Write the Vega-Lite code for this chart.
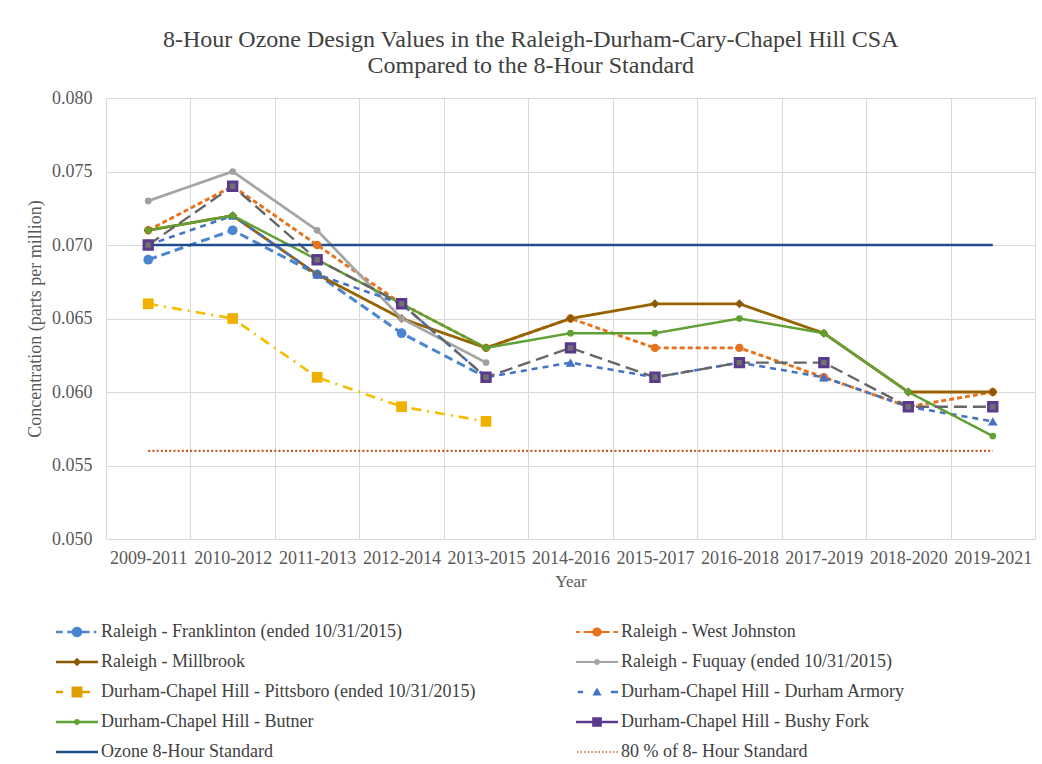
{
  "$schema": "https://vega.github.io/schema/vega-lite/v6.json",
  "width": 929,
  "height": 441,
  "autosize": "none",
  "padding": {"left": 106, "top": 98, "right": 7, "bottom": 225},
  "background": "white",
  "title": {
    "text": ["8-Hour Ozone Design Values in the Raleigh-Durham-Cary-Chapel  Hill CSA", "Compared to the 8-Hour Standard"],
    "fontSize": 24,
    "fontWeight": "normal",
    "color": "#404040",
    "lineHeight": 26,
    "anchor": "middle",
    "frame": "bounds",
    "offset": 11
  },
  "data": {
    "values": [
      {"period": "2009-2011", "site": "Raleigh - Franklinton (ended 10/31/2015)", "ppm": 0.069},
      {"period": "2010-2012", "site": "Raleigh - Franklinton (ended 10/31/2015)", "ppm": 0.071},
      {"period": "2011-2013", "site": "Raleigh - Franklinton (ended 10/31/2015)", "ppm": 0.068},
      {"period": "2012-2014", "site": "Raleigh - Franklinton (ended 10/31/2015)", "ppm": 0.064},
      {"period": "2013-2015", "site": "Raleigh - Franklinton (ended 10/31/2015)", "ppm": 0.061},

      {"period": "2009-2011", "site": "Raleigh - West Johnston", "ppm": 0.071},
      {"period": "2010-2012", "site": "Raleigh - West Johnston", "ppm": 0.074},
      {"period": "2011-2013", "site": "Raleigh - West Johnston", "ppm": 0.070},
      {"period": "2012-2014", "site": "Raleigh - West Johnston", "ppm": 0.066},
      {"period": "2013-2015", "site": "Raleigh - West Johnston", "ppm": 0.063},
      {"period": "2014-2016", "site": "Raleigh - West Johnston", "ppm": 0.065},
      {"period": "2015-2017", "site": "Raleigh - West Johnston", "ppm": 0.063},
      {"period": "2016-2018", "site": "Raleigh - West Johnston", "ppm": 0.063},
      {"period": "2017-2019", "site": "Raleigh - West Johnston", "ppm": 0.061},
      {"period": "2018-2020", "site": "Raleigh - West Johnston", "ppm": 0.059},
      {"period": "2019-2021", "site": "Raleigh - West Johnston", "ppm": 0.060},

      {"period": "2009-2011", "site": "Raleigh - Millbrook", "ppm": 0.071},
      {"period": "2010-2012", "site": "Raleigh - Millbrook", "ppm": 0.072},
      {"period": "2011-2013", "site": "Raleigh - Millbrook", "ppm": 0.068},
      {"period": "2012-2014", "site": "Raleigh - Millbrook", "ppm": 0.065},
      {"period": "2013-2015", "site": "Raleigh - Millbrook", "ppm": 0.063},
      {"period": "2014-2016", "site": "Raleigh - Millbrook", "ppm": 0.065},
      {"period": "2015-2017", "site": "Raleigh - Millbrook", "ppm": 0.066},
      {"period": "2016-2018", "site": "Raleigh - Millbrook", "ppm": 0.066},
      {"period": "2017-2019", "site": "Raleigh - Millbrook", "ppm": 0.064},
      {"period": "2018-2020", "site": "Raleigh - Millbrook", "ppm": 0.060},
      {"period": "2019-2021", "site": "Raleigh - Millbrook", "ppm": 0.060},

      {"period": "2009-2011", "site": "Raleigh - Fuquay (ended 10/31/2015)", "ppm": 0.073},
      {"period": "2010-2012", "site": "Raleigh - Fuquay (ended 10/31/2015)", "ppm": 0.075},
      {"period": "2011-2013", "site": "Raleigh - Fuquay (ended 10/31/2015)", "ppm": 0.071},
      {"period": "2012-2014", "site": "Raleigh - Fuquay (ended 10/31/2015)", "ppm": 0.065},
      {"period": "2013-2015", "site": "Raleigh - Fuquay (ended 10/31/2015)", "ppm": 0.062},

      {"period": "2009-2011", "site": "Durham-Chapel Hill - Pittsboro (ended 10/31/2015)", "ppm": 0.066},
      {"period": "2010-2012", "site": "Durham-Chapel Hill - Pittsboro (ended 10/31/2015)", "ppm": 0.065},
      {"period": "2011-2013", "site": "Durham-Chapel Hill - Pittsboro (ended 10/31/2015)", "ppm": 0.061},
      {"period": "2012-2014", "site": "Durham-Chapel Hill - Pittsboro (ended 10/31/2015)", "ppm": 0.059},
      {"period": "2013-2015", "site": "Durham-Chapel Hill - Pittsboro (ended 10/31/2015)", "ppm": 0.058},

      {"period": "2009-2011", "site": "Durham-Chapel Hill - Durham Armory", "ppm": 0.070},
      {"period": "2010-2012", "site": "Durham-Chapel Hill - Durham Armory", "ppm": 0.072},
      {"period": "2011-2013", "site": "Durham-Chapel Hill - Durham Armory", "ppm": 0.068},
      {"period": "2012-2014", "site": "Durham-Chapel Hill - Durham Armory", "ppm": 0.066},
      {"period": "2013-2015", "site": "Durham-Chapel Hill - Durham Armory", "ppm": 0.061},
      {"period": "2014-2016", "site": "Durham-Chapel Hill - Durham Armory", "ppm": 0.062},
      {"period": "2015-2017", "site": "Durham-Chapel Hill - Durham Armory", "ppm": 0.061},
      {"period": "2016-2018", "site": "Durham-Chapel Hill - Durham Armory", "ppm": 0.062},
      {"period": "2017-2019", "site": "Durham-Chapel Hill - Durham Armory", "ppm": 0.061},
      {"period": "2018-2020", "site": "Durham-Chapel Hill - Durham Armory", "ppm": 0.059},
      {"period": "2019-2021", "site": "Durham-Chapel Hill - Durham Armory", "ppm": 0.058},

      {"period": "2009-2011", "site": "Durham-Chapel Hill - Butner", "ppm": 0.071},
      {"period": "2010-2012", "site": "Durham-Chapel Hill - Butner", "ppm": 0.072},
      {"period": "2011-2013", "site": "Durham-Chapel Hill - Butner", "ppm": 0.069},
      {"period": "2012-2014", "site": "Durham-Chapel Hill - Butner", "ppm": 0.066},
      {"period": "2013-2015", "site": "Durham-Chapel Hill - Butner", "ppm": 0.063},
      {"period": "2014-2016", "site": "Durham-Chapel Hill - Butner", "ppm": 0.064},
      {"period": "2015-2017", "site": "Durham-Chapel Hill - Butner", "ppm": 0.064},
      {"period": "2016-2018", "site": "Durham-Chapel Hill - Butner", "ppm": 0.065},
      {"period": "2017-2019", "site": "Durham-Chapel Hill - Butner", "ppm": 0.064},
      {"period": "2018-2020", "site": "Durham-Chapel Hill - Butner", "ppm": 0.060},
      {"period": "2019-2021", "site": "Durham-Chapel Hill - Butner", "ppm": 0.057},

      {"period": "2009-2011", "site": "Durham-Chapel Hill - Bushy Fork", "ppm": 0.070},
      {"period": "2010-2012", "site": "Durham-Chapel Hill - Bushy Fork", "ppm": 0.074},
      {"period": "2011-2013", "site": "Durham-Chapel Hill - Bushy Fork", "ppm": 0.069},
      {"period": "2012-2014", "site": "Durham-Chapel Hill - Bushy Fork", "ppm": 0.066},
      {"period": "2013-2015", "site": "Durham-Chapel Hill - Bushy Fork", "ppm": 0.061},
      {"period": "2014-2016", "site": "Durham-Chapel Hill - Bushy Fork", "ppm": 0.063},
      {"period": "2015-2017", "site": "Durham-Chapel Hill - Bushy Fork", "ppm": 0.061},
      {"period": "2016-2018", "site": "Durham-Chapel Hill - Bushy Fork", "ppm": 0.062},
      {"period": "2017-2019", "site": "Durham-Chapel Hill - Bushy Fork", "ppm": 0.062},
      {"period": "2018-2020", "site": "Durham-Chapel Hill - Bushy Fork", "ppm": 0.059},
      {"period": "2019-2021", "site": "Durham-Chapel Hill - Bushy Fork", "ppm": 0.059},

      {"period": "2009-2011", "site": "Ozone 8-Hour Standard", "ppm": 0.070},
      {"period": "2010-2012", "site": "Ozone 8-Hour Standard", "ppm": 0.070},
      {"period": "2011-2013", "site": "Ozone 8-Hour Standard", "ppm": 0.070},
      {"period": "2012-2014", "site": "Ozone 8-Hour Standard", "ppm": 0.070},
      {"period": "2013-2015", "site": "Ozone 8-Hour Standard", "ppm": 0.070},
      {"period": "2014-2016", "site": "Ozone 8-Hour Standard", "ppm": 0.070},
      {"period": "2015-2017", "site": "Ozone 8-Hour Standard", "ppm": 0.070},
      {"period": "2016-2018", "site": "Ozone 8-Hour Standard", "ppm": 0.070},
      {"period": "2017-2019", "site": "Ozone 8-Hour Standard", "ppm": 0.070},
      {"period": "2018-2020", "site": "Ozone 8-Hour Standard", "ppm": 0.070},
      {"period": "2019-2021", "site": "Ozone 8-Hour Standard", "ppm": 0.070},

      {"period": "2009-2011", "site": "80 % of 8- Hour Standard", "ppm": 0.056},
      {"period": "2010-2012", "site": "80 % of 8- Hour Standard", "ppm": 0.056},
      {"period": "2011-2013", "site": "80 % of 8- Hour Standard", "ppm": 0.056},
      {"period": "2012-2014", "site": "80 % of 8- Hour Standard", "ppm": 0.056},
      {"period": "2013-2015", "site": "80 % of 8- Hour Standard", "ppm": 0.056},
      {"period": "2014-2016", "site": "80 % of 8- Hour Standard", "ppm": 0.056},
      {"period": "2015-2017", "site": "80 % of 8- Hour Standard", "ppm": 0.056},
      {"period": "2016-2018", "site": "80 % of 8- Hour Standard", "ppm": 0.056},
      {"period": "2017-2019", "site": "80 % of 8- Hour Standard", "ppm": 0.056},
      {"period": "2018-2020", "site": "80 % of 8- Hour Standard", "ppm": 0.056},
      {"period": "2019-2021", "site": "80 % of 8- Hour Standard", "ppm": 0.056}
    ]
  },
  "encoding": {
    "x": {
      "field": "period",
      "type": "nominal",
      "scale": {
        "type": "band",
        "domain": ["2009-2011", "2010-2012", "2011-2013", "2012-2014", "2013-2015", "2014-2016", "2015-2017", "2016-2018", "2017-2019", "2018-2020", "2019-2021"],
        "paddingInner": 0,
        "paddingOuter": 0
      },
      "axis": {
        "title": "Year",
        "tickBand": "extent",
        "grid": true,
        "ticks": false,
        "domain": false,
        "labelAngle": 0,
        "labelOverlap": false,
        "labelFontSize": 18,
        "labelPadding": 10,
        "titleFontSize": 17,
        "titlePadding": 6
      }
    },
    "y": {
      "field": "ppm",
      "type": "quantitative",
      "scale": {"domain": [0.05, 0.08], "zero": false, "nice": false},
      "axis": {
        "title": "Concentration  (parts per million)",
        "values": [0.05, 0.055, 0.06, 0.065, 0.07, 0.075, 0.08],
        "format": ".3f",
        "grid": true,
        "ticks": false,
        "domain": false,
        "labelFontSize": 18,
        "labelPadding": 14,
        "titleFontSize": 18,
        "titlePadding": 7
      }
    }
  },
  "layer": [
    {
      "mark": {"type": "line"},
      "encoding": {
        "stroke": {
          "field": "site",
          "type": "nominal",
          "scale": {
            "domain": ["Raleigh - Franklinton (ended 10/31/2015)", "Raleigh - West Johnston", "Raleigh - Millbrook", "Raleigh - Fuquay (ended 10/31/2015)", "Durham-Chapel Hill - Pittsboro (ended 10/31/2015)", "Durham-Chapel Hill - Durham Armory", "Durham-Chapel Hill - Butner", "Durham-Chapel Hill - Bushy Fork", "Ozone 8-Hour Standard", "80 % of 8- Hour Standard"],
            "range": ["#4A86CF", "#E8711C", "#976300", "#A5A5A5", "#F5BE00", "#4472C4", "#5FA132", "#666666", "#1F4E8C", "#C65A28"]
          },
          "legend": null
        },
        "strokeDash": {
          "field": "site",
          "type": "nominal",
          "scale": {
            "domain": ["Raleigh - Franklinton (ended 10/31/2015)", "Raleigh - West Johnston", "Raleigh - Millbrook", "Raleigh - Fuquay (ended 10/31/2015)", "Durham-Chapel Hill - Pittsboro (ended 10/31/2015)", "Durham-Chapel Hill - Durham Armory", "Durham-Chapel Hill - Butner", "Durham-Chapel Hill - Bushy Fork", "Ozone 8-Hour Standard", "80 % of 8- Hour Standard"],
            "range": [[9, 5], [5, 3], [1, 0], [1, 0], [10, 6, 2, 6], [6, 5], [1, 0], [13, 6], [1, 0], [2, 2.2]]
          },
          "legend": null
        },
        "strokeWidth": {
          "field": "site",
          "type": "ordinal",
          "scale": {
            "domain": ["Raleigh - Franklinton (ended 10/31/2015)", "Raleigh - West Johnston", "Raleigh - Millbrook", "Raleigh - Fuquay (ended 10/31/2015)", "Durham-Chapel Hill - Pittsboro (ended 10/31/2015)", "Durham-Chapel Hill - Durham Armory", "Durham-Chapel Hill - Butner", "Durham-Chapel Hill - Bushy Fork", "Ozone 8-Hour Standard", "80 % of 8- Hour Standard"],
            "range": [3, 2.2, 2.2, 1.8, 2.2, 2.4, 2.2, 2.2, 2.4, 2.2]
          },
          "legend": null
        }
      }
    },
    {
      "transform": [{"filter": {"field": "site", "equal": "Raleigh - Franklinton (ended 10/31/2015)"}}],
      "mark": {"type": "point", "shape": "circle", "filled": true, "opacity": 1, "size": 95, "color": "#4A86CF"}
    },
    {
      "transform": [{"filter": {"field": "site", "equal": "Raleigh - West Johnston"}}],
      "mark": {"type": "point", "shape": "circle", "filled": true, "opacity": 1, "size": 70, "color": "#E8711C"}
    },
    {
      "transform": [{"filter": {"field": "site", "equal": "Raleigh - Millbrook"}}],
      "mark": {"type": "point", "shape": "diamond", "filled": true, "opacity": 1, "size": 80, "color": "#8B5A00"}
    },
    {
      "transform": [{"filter": {"field": "site", "equal": "Raleigh - Fuquay (ended 10/31/2015)"}}],
      "mark": {"type": "point", "shape": "circle", "filled": true, "opacity": 1, "size": 45, "color": "#A0A0A0"}
    },
    {
      "transform": [{"filter": {"field": "site", "equal": "Durham-Chapel Hill - Pittsboro (ended 10/31/2015)"}}],
      "mark": {"type": "point", "shape": "square", "filled": true, "opacity": 1, "size": 115, "color": "#F0B000"}
    },
    {
      "transform": [{"filter": {"field": "site", "equal": "Durham-Chapel Hill - Durham Armory"}}],
      "mark": {"type": "point", "shape": "triangle-up", "filled": true, "opacity": 1, "size": 95, "color": "#4472C4"}
    },
    {
      "transform": [{"filter": {"field": "site", "equal": "Durham-Chapel Hill - Butner"}}],
      "mark": {"type": "point", "shape": "circle", "filled": true, "opacity": 1, "size": 45, "color": "#5FA132"}
    },
    {
      "transform": [{"filter": {"field": "site", "equal": "Durham-Chapel Hill - Bushy Fork"}}],
      "mark": {"type": "point", "shape": "square", "filled": true, "opacity": 1, "size": 70, "fill": "#707070", "stroke": "#5B3A8E", "strokeWidth": 3}
    },
    {
      "mark": {"type": "point", "filled": true, "opacity": 0, "size": 1764, "strokeWidth": 0},
      "encoding": {
        "fill": {
          "field": "site",
          "type": "nominal",
          "scale": {
            "domain": ["Raleigh - Franklinton (ended 10/31/2015)", "Raleigh - Millbrook", "Durham-Chapel Hill - Pittsboro (ended 10/31/2015)", "Durham-Chapel Hill - Butner", "Ozone 8-Hour Standard", "Raleigh - West Johnston", "Raleigh - Fuquay (ended 10/31/2015)", "Durham-Chapel Hill - Durham Armory", "Durham-Chapel Hill - Bushy Fork", "80 % of 8- Hour Standard"],
            "range": ["#4A86CF", "#8B5A00", "#DDA000", "#5FA132", "#1F4E8C", "#E8711C", "#A5A5A5", "#4472C4", "#5B3A8E", "#C65A28"]
          },
          "legend": {
            "title": null, "orient": "none", "legendX": -50, "legendY": 513, "columns": 2, "columnPadding": 100, "rowPadding": -15,
            "symbolSize": 1764, "symbolStrokeWidth": 0, "symbolOpacity": 1, "labelFontSize": 18, "labelColor": "#404040",
            "labelOffset": 3, "labelLimit": 600
          }
        },
        "shape": {
          "field": "site",
          "type": "nominal",
          "scale": {
            "domain": ["Raleigh - Franklinton (ended 10/31/2015)", "Raleigh - Millbrook", "Durham-Chapel Hill - Pittsboro (ended 10/31/2015)", "Durham-Chapel Hill - Butner", "Ozone 8-Hour Standard", "Raleigh - West Johnston", "Raleigh - Fuquay (ended 10/31/2015)", "Durham-Chapel Hill - Durham Armory", "Durham-Chapel Hill - Bushy Fork", "80 % of 8- Hour Standard"],
            "range": [
              "M -1,-0.055 H -0.68 V 0.055 H -1 Z M -0.46,-0.055 H -0.18 V 0.055 H -0.46 Z M 0.18,-0.055 H 0.6 V 0.055 H 0.18 Z M 0.8,-0.055 H 0.92 V 0.055 H 0.8 Z M -0.25,0 A 0.25,0.25 0 1 1 0.25,0 A 0.25,0.25 0 1 1 -0.25,0 Z",
              "M -1,-0.055 H 1 V 0.055 H -1 Z M 0,-0.2 L 0.2,0 L 0,0.2 L -0.2,0 Z",
              "M -1,-0.055 H -0.66 V 0.055 H -1 Z M -0.26,-0.26 H 0.26 V 0.26 H -0.26 Z M 0.26,-0.055 H 0.62 V 0.055 H 0.26 Z",
              "M -1,-0.055 H 1 V 0.055 H -1 Z M -0.14,0 A 0.14,0.14 0 1 1 0.14,0 A 0.14,0.14 0 1 1 -0.14,0 Z",
              "M -1,-0.06 H 1 V 0.06 H -1 Z",
              "M -1,-0.05 H -0.82 V 0.05 H -1 Z M -0.64,-0.05 H -0.2 V 0.05 H -0.64 Z M 0.2,-0.05 H 0.6 V 0.05 H 0.2 Z M 0.78,-0.05 H 1 V 0.05 H 0.78 Z M -0.22,0 A 0.22,0.22 0 1 1 0.22,0 A 0.22,0.22 0 1 1 -0.22,0 Z",
              "M -1,-0.045 H 1 V 0.045 H -1 Z M -0.14,0 A 0.14,0.14 0 1 1 0.14,0 A 0.14,0.14 0 1 1 -0.14,0 Z",
              "M -0.92,-0.055 H -0.66 V 0.055 H -0.92 Z M 0,-0.22 L 0.22,0.17 L -0.22,0.17 Z M 0.66,-0.055 H 1 V 0.055 H 0.66 Z",
              "M -1,-0.055 H 1 V 0.055 H -1 Z M -0.23,-0.23 H 0.23 V 0.23 H -0.23 Z",
              "M -0.95,-0.04 H -0.88 V 0.04 H -0.95 Z M -0.78,-0.04 H -0.71 V 0.04 H -0.78 Z M -0.61,-0.04 H -0.54 V 0.04 H -0.61 Z M -0.44,-0.04 H -0.37 V 0.04 H -0.44 Z M -0.27,-0.04 H -0.2 V 0.04 H -0.27 Z M -0.1,-0.04 H -0.03 V 0.04 H -0.1 Z M 0.07,-0.04 H 0.14 V 0.04 H 0.07 Z M 0.24,-0.04 H 0.31 V 0.04 H 0.24 Z M 0.41,-0.04 H 0.48 V 0.04 H 0.41 Z M 0.58,-0.04 H 0.65 V 0.04 H 0.58 Z M 0.75,-0.04 H 0.82 V 0.04 H 0.75 Z M 0.92,-0.04 H 0.99 V 0.04 H 0.92 Z"
            ]
          },
          "legend": {
            "title": null, "orient": "none", "legendX": -50, "legendY": 513, "columns": 2, "columnPadding": 100, "rowPadding": -15,
            "symbolSize": 1764, "symbolStrokeWidth": 0, "symbolOpacity": 1, "labelFontSize": 18, "labelColor": "#404040",
            "labelOffset": 3, "labelLimit": 600
          }
        }
      }
    }
  ],
  "config": {
    "font": "Liberation Serif",
    "view": {"stroke": null},
    "axis": {
      "labelFont": "Liberation Serif",
      "titleFont": "Liberation Serif",
      "labelColor": "#595959",
      "titleColor": "#595959",
      "titleFontWeight": "normal",
      "gridColor": "#D9D9D9",
      "gridWidth": 1
    },
    "legend": {"labelFont": "Liberation Serif"},
    "title": {"font": "Liberation Serif"}
  }
}
